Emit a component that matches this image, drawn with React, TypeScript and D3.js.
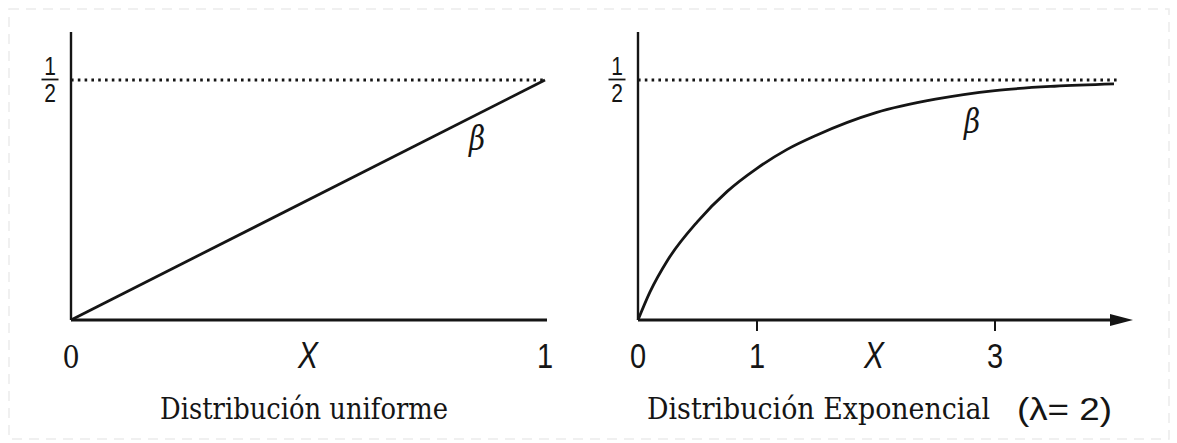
import React from "react";
import * as d3 from "d3";

// Uniform distribution: beta grows linearly from 0 to 1/2
const uniformX = [0, 1];
const uniformBeta = [0, 0.5];

// Exponential distribution (lambda = 2): beta approaches 1/2
const expX = [0, 0.1, 0.25, 0.5, 0.75, 1, 1.25, 1.5, 2, 2.5, 3, 3.5, 4];
const expBeta = [0, 0.058, 0.125, 0.205, 0.268, 0.316, 0.355, 0.385, 0.432, 0.46, 0.478, 0.487, 0.492];

const halfLevel = 0.5;
const uniformTicks = ["0", "1"];
const expTicks = [1, 3];

const INK = "#151515";
const SANS = "Arial, 'Liberation Sans', Helvetica, sans-serif";
const SERIF = "'DejaVu Serif', 'Liberation Serif', serif";

type TProps = {
  x: number;
  y: number;
  size: number;
  sy?: number;
  family?: string;
  italic?: boolean;
  weight?: number;
  anchor?: "start" | "middle" | "end";
  len?: number;
  children: React.ReactNode;
};

// Text slightly stretched vertically, as in the printed figure
function T({ x, y, size, sy = 1.2, family = SANS, italic, weight, anchor = "middle", len, children }: TProps) {
  return (
    <text
      transform={`translate(${x},${y}) scale(1,${sy})`}
      fontSize={size}
      fontFamily={family}
      fontStyle={italic ? "italic" : "normal"}
      fontWeight={weight ?? 400}
      textAnchor={anchor}
      fill={INK}
      textLength={len}
      lengthAdjust={len ? "spacingAndGlyphs" : undefined}
    >
      {children}
    </text>
  );
}

function Half({ x }: { x: number }) {
  return (
    <g>
      <T x={x} y={75} size={21}>1</T>
      <line x1={x - 8.5} x2={x + 8.5} y1={79.5} y2={79.5} stroke={INK} strokeWidth={1.8} />
      <T x={x} y={102} size={21}>2</T>
    </g>
  );
}

export default function App() {
  const W = 1177;
  const H = 443;
  const y0 = 320;
  const yTop = 32;

  // Left panel scales
  const xL = d3.scaleLinear().domain([0, 1]).range([71, 545]);
  const yS = d3.scaleLinear().domain([0, 0.5]).range([y0, 80]);

  // Right panel scales
  const xR = d3.scaleLinear().domain([0, 4]).range([638, 1114]);

  const lineL = d3
    .line<number>()
    .x((_, i) => xL(uniformX[i]))
    .y((d) => yS(d));
  const lineR = d3
    .line<number>()
    .x((_, i) => xR(expX[i]))
    .y((d) => yS(d))
    .curve(d3.curveMonotoneX);

  const dotted = { stroke: INK, strokeWidth: 2.8, strokeDasharray: "2.6 4.2" };

  return (
    <svg
      width={W}
      height={H}
      viewBox={`0 0 ${W} ${H}`}
      style={{ position: "absolute", left: 0, top: 0, background: "#fff" }}
    >
      <rect x={9} y={9} width={1160} height={430} fill="none" stroke="#ececec" strokeWidth={1.5} strokeDasharray="10 7" />

      {/* Left panel: uniform */}
      <g>
        <line x1={xL(0)} x2={xL(0)} y1={yTop} y2={y0} stroke={INK} strokeWidth={2.4} />
        <line x1={xL(0)} x2={xL(1) + 2} y1={y0} y2={y0} stroke={INK} strokeWidth={2.8} />
        <line x1={xL(0)} x2={xL(1)} y1={yS(halfLevel)} y2={yS(halfLevel)} {...dotted} />
        <path d={lineL(uniformBeta) ?? ""} fill="none" stroke={INK} strokeWidth={2.8} />
        <Half x={50} />
        <T x={xL(0)} y={368} size={27} family={SERIF}>{uniformTicks[0]}</T>
        <T x={xL(1)} y={368} size={29}>{uniformTicks[1]}</T>
        <T x={xL(0.5)} y={368} size={30} italic>X</T>
        <T x={477} y={150} size={28} family={SERIF} italic>β</T>
        <T x={160} y={419} size={22} sy={1.32} family={SERIF} anchor="start" len={288}>
          Distribución uniforme
        </T>
      </g>

      {/* Right panel: exponential */}
      <g>
        <line x1={xR(0)} x2={xR(0)} y1={yTop} y2={y0} stroke={INK} strokeWidth={2.4} />
        <line x1={xR(0)} x2={1114} y1={y0} y2={y0} stroke={INK} strokeWidth={2.8} />
        <polygon points={`1110,314 1133,320 1110,326`} fill={INK} />
        {expTicks.map((t) => (
          <g key={t}>
            <line x1={xR(t)} x2={xR(t)} y1={y0} y2={y0 + 11} stroke={INK} strokeWidth={2} />
            <T x={xR(t)} y={368} size={29}>{String(t)}</T>
          </g>
        ))}
        <T x={xR(0)} y={368} size={29}>0</T>
        <T x={xR(2) - 2} y={368} size={30} italic>X</T>
        <line x1={xR(0)} x2={1117} y1={yS(halfLevel)} y2={yS(halfLevel)} {...dotted} />
        <path d={lineR(expBeta) ?? ""} fill="none" stroke={INK} strokeWidth={2.8} />
        <Half x={617} />
        <T x={972} y={133} size={28} family={SERIF} italic>β</T>
        <T x={647} y={419} size={22} sy={1.32} family={SERIF} anchor="start" len={343}>
          Distribución Exponencial
        </T>
        <T x={1017} y={420} size={26} weight={500} anchor="start" len={95}>
          (λ= 2)
        </T>
      </g>
    </svg>
  );
}
